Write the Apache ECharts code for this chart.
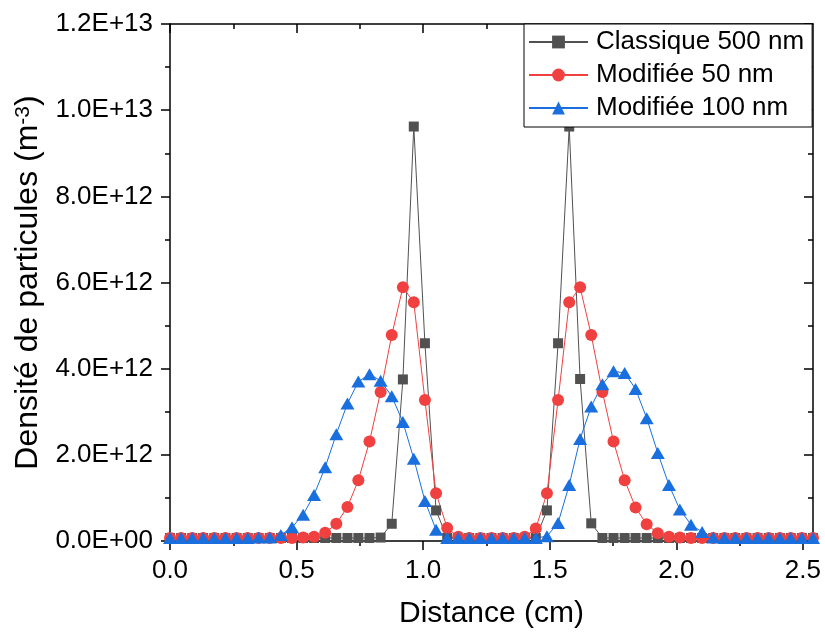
<!DOCTYPE html>
<html>
<head>
<meta charset="utf-8">
<script src="https://cdn.jsdelivr.net/npm/echarts@6/dist/echarts.min.js"></script>
<style>
html,body{margin:0;padding:0;background:#fff;}
#chart{width:825px;height:634px;}
</style>
</head>
<body>
<div id="chart"></div>
<script>
// Distance (cm)
const distance = [0.000,0.044,0.088,0.131,0.175,0.219,0.263,0.307,0.350,0.394,
  0.438,0.482,0.526,0.569,0.613,0.657,0.701,0.744,0.788,0.832,
  0.876,0.920,0.963,1.007,1.051,1.095,1.139,1.182,1.226,1.270,
  1.314,1.358,1.401,1.445,1.489,1.533,1.577,1.620,1.664,1.708,
  1.752,1.796,1.839,1.883,1.927,1.971,2.014,2.058,2.102,2.146,
  2.190,2.233,2.277,2.321,2.365,2.409,2.452,2.496,2.540];

// Densité (units of 1E+12 m^-3)
const classique500 = [0.07,0.07,0.07,0.07,0.07,0.07,0.07,0.07,0.07,0.07,
  0.07,0.07,0.07,0.07,0.07,0.07,0.07,0.07,0.07,0.08,
  0.40,3.75,9.62,4.59,0.71,0.07,0.07,0.07,0.07,0.07,
  0.07,0.07,0.07,0.07,0.71,4.59,9.62,3.76,0.41,0.07,
  0.07,0.07,0.07,0.07,0.07,0.07,0.07,0.07,0.07,0.07,
  0.07,0.07,0.07,0.07,0.07,0.07,0.07,0.07,0.07];

const modifiee50 = [0.07,0.07,0.07,0.07,0.07,0.07,0.07,0.07,0.07,0.07,
  0.07,0.07,0.08,0.10,0.19,0.40,0.79,1.41,2.31,3.46,
  4.78,5.89,5.54,3.27,1.11,0.30,0.10,0.07,0.07,0.07,
  0.07,0.07,0.10,0.29,1.11,3.27,5.54,5.89,4.78,3.46,
  2.31,1.41,0.78,0.39,0.18,0.10,0.08,0.07,0.07,0.07,
  0.07,0.07,0.07,0.07,0.07,0.07,0.07,0.07,0.07];

const modifiee100 = [0.07,0.07,0.07,0.07,0.07,0.07,0.07,0.07,0.08,0.08,
  0.14,0.32,0.61,1.07,1.71,2.48,3.19,3.70,3.87,3.72,
  3.36,2.76,1.91,0.93,0.26,0.07,0.07,0.07,0.07,0.07,
  0.07,0.07,0.07,0.07,0.11,0.42,1.30,2.37,3.12,3.64,
  3.94,3.90,3.53,2.85,2.04,1.30,0.73,0.38,0.21,0.08,
  0.07,0.07,0.07,0.07,0.07,0.07,0.07,0.07,0.07];

const seriesNames = ['Classique 500 nm', 'Modifiée 50 nm', 'Modifiée 100 nm'];

const xTickValues = [0, 0.5, 1.0, 1.5, 2.0, 2.5];
const xTickLabels = ['0.0', '0.5', '1.0', '1.5', '2.0', '2.5'];
const xMinorValues = [0.25, 0.75, 1.25, 1.75, 2.25];
const yTickValues = [0, 2, 4, 6, 8, 10, 12];
const yTickLabels = ['0.0E+00', '2.0E+12', '4.0E+12', '6.0E+12', '8.0E+12', '1.0E+13', '1.2E+13'];

const FONT = 'Liberation Sans, Arial, sans-serif';
const AXIS_COLOR = '#000';

function pairs(ys) { return distance.map((x, i) => [x, ys[i]]); }

const chart = echarts.init(document.getElementById('chart'), null, {renderer: 'canvas'});

const baseX = {
  type: 'value', min: 0, max: 2.54, gridIndex: 0,
  splitLine: {show: false}
};

const option = {
  animation: false,
  backgroundColor: '#fff',
  grid: {left: 170, right: 12, top: 24, bottom: 92},
  legend: {
    orient: 'vertical',
    left: 524, top: 24,
    data: seriesNames,
    backgroundColor: '#fff',
    borderColor: '#000',
    borderWidth: 1,
    borderRadius: 0,
    padding: [3, 8, 4, 4],
    itemGap: 3,
    itemWidth: 59,
    itemHeight: 16,
    textStyle: {fontFamily: FONT, fontSize: 26, color: '#000', lineHeight: 30, padding: [0, 0, 0, 3]}
  },
  xAxis: [
    Object.assign({}, baseX, {
      position: 'bottom',
      name: 'Distance (cm)', nameLocation: 'middle', nameGap: 58,
      nameTextStyle: {fontFamily: FONT, fontSize: 30, color: '#000'},
      axisLine: {show: true, onZero: false, lineStyle: {color: AXIS_COLOR, width: 1.5}},
      axisTick: {show: true, inside: false, length: 9, customValues: xTickValues, lineStyle: {color: AXIS_COLOR, width: 1.5}},
      axisLabel: {show: true, margin: 17, customValues: xTickValues, fontFamily: FONT, fontSize: 26, color: '#000',
        formatter: v => { const k = xTickValues.findIndex(t => Math.abs(t - v) < 1e-6); return k >= 0 ? xTickLabels[k] : ''; }}
    }),
    Object.assign({}, baseX, {
      position: 'bottom',
      axisLine: {show: false, onZero: false},
      axisTick: {show: true, inside: false, length: 5, customValues: xMinorValues, lineStyle: {color: AXIS_COLOR, width: 1.5}},
      axisLabel: {show: false}
    }),
    Object.assign({}, baseX, {
      position: 'top',
      axisLine: {show: true, onZero: false, lineStyle: {color: AXIS_COLOR, width: 1.5}},
      axisTick: {show: true, inside: true, length: 9, customValues: xTickValues, lineStyle: {color: AXIS_COLOR, width: 1.5}},
      axisLabel: {show: false}
    }),
    Object.assign({}, baseX, {
      position: 'top',
      axisLine: {show: false, onZero: false},
      axisTick: {show: true, inside: true, length: 5, customValues: xMinorValues, lineStyle: {color: AXIS_COLOR, width: 1.5}},
      axisLabel: {show: false}
    })
  ],
  yAxis: [
    {
      type: 'value', min: 0, max: 12, interval: 2, position: 'left',
      name: 'Densité de particules (m{sup|-3})', nameLocation: 'middle', nameGap: 122, nameRotate: 90,
      nameTextStyle: {fontFamily: FONT, fontSize: 32, color: '#000',
        rich: {sup: {fontFamily: FONT, fontSize: 21, color: '#000', verticalAlign: 'top', lineHeight: 21}}},
      splitLine: {show: false},
      axisLine: {show: true, onZero: false, lineStyle: {color: AXIS_COLOR, width: 1.5}},
      axisTick: {show: true, inside: false, length: 9, lineStyle: {color: AXIS_COLOR, width: 1.5}},
      minorTick: {show: true, splitNumber: 2, length: 5, lineStyle: {color: AXIS_COLOR, width: 1.5}},
      axisLabel: {margin: 17, fontFamily: FONT, fontSize: 26, color: '#000',
        formatter: v => { const k = yTickValues.indexOf(v); return k >= 0 ? yTickLabels[k] : ''; }}
    },
    {
      type: 'value', min: 0, max: 12, interval: 2, position: 'right',
      splitLine: {show: false},
      axisLine: {show: true, onZero: false, lineStyle: {color: AXIS_COLOR, width: 1.5}},
      axisTick: {show: true, inside: true, length: 9, lineStyle: {color: AXIS_COLOR, width: 1.5}},
      minorTick: {show: true, splitNumber: 2, length: 5, lineStyle: {color: AXIS_COLOR, width: 1.5}},
      axisLabel: {show: false}
    }
  ],
  series: [
    {
      name: seriesNames[0], type: 'line', xAxisIndex: 0, yAxisIndex: 0,
      data: pairs(classique500),
      symbol: 'rect', symbolSize: 10,
      lineStyle: {color: '#515151', width: 1},
      itemStyle: {color: '#515151'},
      emphasis: {disabled: true}
    },
    {
      name: seriesNames[1], type: 'line', xAxisIndex: 0, yAxisIndex: 0,
      data: pairs(modifiee50),
      symbol: 'circle', symbolSize: 12,
      lineStyle: {color: '#F14040', width: 1},
      itemStyle: {color: '#F14040'},
      emphasis: {disabled: true}
    },
    {
      name: seriesNames[2], type: 'line', xAxisIndex: 0, yAxisIndex: 0,
      data: pairs(modifiee100),
      symbol: 'triangle', symbolSize: [14, 12],
      lineStyle: {color: '#1A6FDF', width: 1},
      itemStyle: {color: '#1A6FDF'},
      emphasis: {disabled: true}
    }
  ]
};

chart.setOption(option);
</script>
</body>
</html>
